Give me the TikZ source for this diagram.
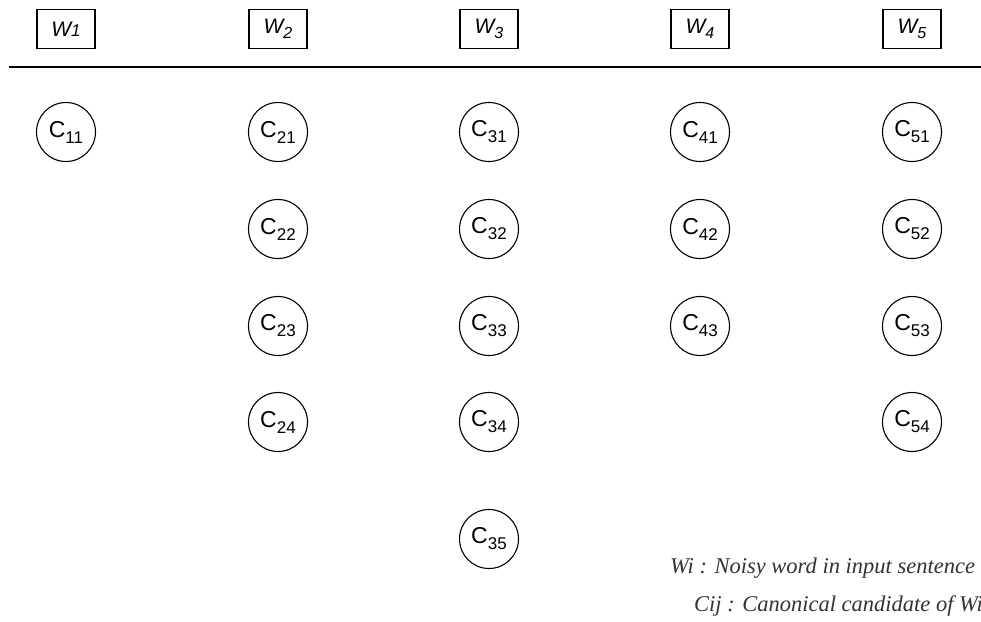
\documentclass[tikz,border=0pt]{standalone}
\usepackage{fontspec}
\setmainfont{Liberation Sans}
\newfontfamily\legendfont{Liberation Serif}
\begin{document}
\begin{tikzpicture}[x=1pt,y=-1pt,
  wordbox/.style={draw,line width=1.1pt,minimum width=58pt,minimum height=39pt,inner sep=0pt,
    font=\fontsize{21}{24}\selectfont\itshape},
  cand/.style={draw,circle,line width=1.1pt,minimum size=59pt,inner sep=0pt,
    font=\fontsize{23}{26}\selectfont},
  legend/.style={anchor=base west,inner sep=0pt,font=\fontsize{22.5}{26}\selectfont\legendfont\itshape,text=black!80}]
\useasboundingbox (0,0) rectangle (981,621);
% subscripted labels
\newcommand\wsub[1]{\raisebox{-5pt}{\fontsize{16}{18}\selectfont\itshape #1}}
\newcommand\cnd[1]{C\raisebox{-6pt}{\fontsize{17}{19}\selectfont #1}}
% noisy words of the input sentence
\node[wordbox] (w1) at (66,29)  {W{\fontsize{17}{19}\selectfont 1}};
\node[wordbox] (w2) at (278,29) {W\wsub{2}};
\node[wordbox] (w3) at (489,29) {W\wsub{3}};
\node[wordbox] (w4) at (700,29) {W\wsub{4}};
\node[wordbox] (w5) at (912,29) {W\wsub{5}};
% separator
\coordinate (sepL) at (9,67);
\coordinate (sepR) at (981,67);
\draw[line width=1.4pt] (sepL) -- (sepR);
% canonical candidates
\node[cand] (c11) at (66,132)  {\cnd{11}};
\node[cand] (c21) at (278,132) {\cnd{21}};
\node[cand] (c22) at (278,229) {\cnd{22}};
\node[cand] (c23) at (278,326) {\cnd{23}};
\node[cand] (c24) at (278,422) {\cnd{24}};
\node[cand] (c31) at (489,132) {\cnd{31}};
\node[cand] (c32) at (489,229) {\cnd{32}};
\node[cand] (c33) at (489,326) {\cnd{33}};
\node[cand] (c34) at (489,422) {\cnd{34}};
\node[cand] (c35) at (489,539) {\cnd{35}};
\node[cand] (c41) at (700,132) {\cnd{41}};
\node[cand] (c42) at (700,229) {\cnd{42}};
\node[cand] (c43) at (700,326) {\cnd{43}};
\node[cand] (c51) at (912,132) {\cnd{51}};
\node[cand] (c52) at (912,229) {\cnd{52}};
\node[cand] (c53) at (912,326) {\cnd{53}};
\node[cand] (c54) at (912,422) {\cnd{54}};
% legend
\node[legend] (lg1) at (670,573) {Wi : Noisy word in input sentence};
\node[legend] (lg2) at (694,611) {Cij : Canonical candidate of Wi};
\end{tikzpicture}
\end{document}
